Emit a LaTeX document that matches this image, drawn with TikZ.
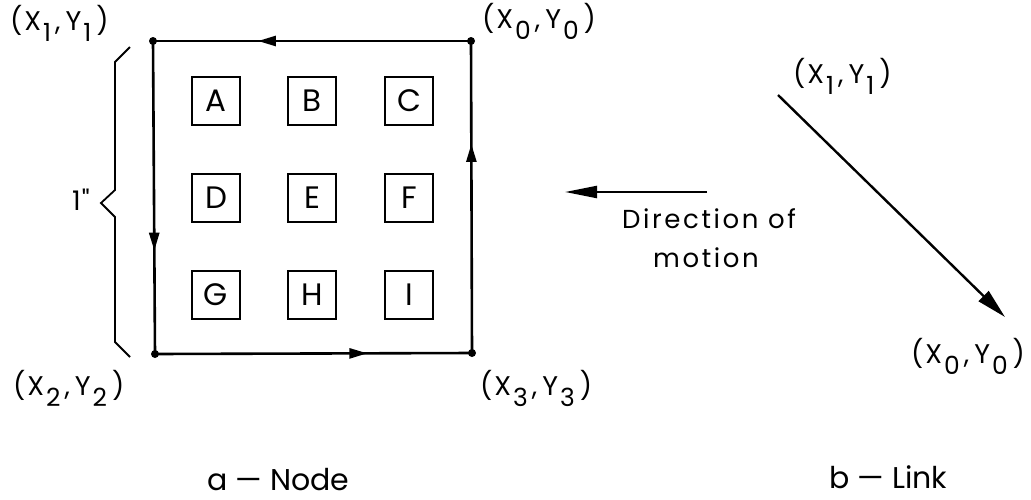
\documentclass[tikz,border=0pt]{standalone}
\usepackage{fontspec}
\setmainfont{Poppins}
\newfontfamily\labfont[LetterSpace=4]{Poppins}
\newfontfamily\dirfont[LetterSpace=10]{Poppins}
\newfontfamily\capfont{Poppins}
\usetikzlibrary{arrows.meta,decorations.markings}
\newcommand\dnx[1]{\hspace{2pt}\raisebox{-11pt}{\fontsize{25}{25}\selectfont #1}}
\newcommand\cpt[2]{(\hspace{2pt}X\dnx{#1}\hspace{4pt},\hspace{5pt}Y\dnx{#2}\hspace{5pt})}
\tikzset{
  lbl/.style={inner sep=0pt, anchor=base west, font=\labfont\fontsize{27}{30}\selectfont},
  dirtext/.style={inner sep=0pt, anchor=base, font=\dirfont\fontsize{26}{28}\selectfont},
  captext/.style={inner sep=0pt, anchor=base west, font=\capfont\fontsize{30}{32}\selectfont},
  cell/.style={draw, line width=1.8pt, minimum width=48pt, minimum height=48pt, inner sep=0pt, font=\fontsize{31}{31}\selectfont},
  edge/.style={line width=2.6pt, line cap=round, postaction={decorate}, decoration={markings, mark=at position 0.67 with {\arrow{Triangle[length=18pt,width=10pt]}}}},
  dot/.style={circle, fill, inner sep=0pt, minimum size=8pt},
  thin/.style={line width=1.8pt},
}
\begin{document}
\begin{tikzpicture}[x=1pt,y=-1pt]
\useasboundingbox (0,0) rectangle (1031,499);
% corners
\coordinate (c1) at (153,41);
\coordinate (c0) at (471,41);
\coordinate (c2) at (155,354);
\coordinate (c3) at (472,353);
\draw[edge] (c0) -- (c1);
\draw[edge] (c1) -- (c2);
\draw[edge] (c2) -- (c3);
\draw[edge] (c3) -- (c0);
\foreach \c in {c0,c1,c2,c3} \node[dot] at (\c) {};
% cells
\node[cell] (A) at (216,101) {A};
\node[cell] (B) at (312,101) {B};
\node[cell] (C) at (409,101) {C};
\node[cell] (D) at (216,198) {D};
\node[cell] (E) at (312,198) {E};
\node[cell] (F) at (409,198) {F};
\node[cell] (G) at (216,295) {G};
\node[cell] (H) at (312,295) {H};
\node[cell] (I) at (409,295) {I};
% corner labels
\node[lbl] (l1) at (10,30) {\cpt{1}{1}};
\node[lbl] (l0) at (482,28) {\cpt{0}{0}};
\node[lbl] (l2) at (13,395) {\cpt{2}{2}};
\node[lbl] (l3) at (480,395) {\cpt{3}{3}};
% brace
\draw[thin, line join=miter] (130,47) -- (115,62) -- (115,190) -- (101,203) -- (115,217) -- (115,342) -- (130,357);
\node[lbl] (one) at (72,210) {1"};
% direction of motion
\coordinate (ms) at (707,192);
\coordinate (me) at (565,192);
\draw[line width=2.2pt, -{Triangle[length=32pt,width=12pt]}] (ms) -- (me);
\node[dirtext] (dm1) at (709,228) {Direction of};
\node[dirtext] (dm2) at (706,267) {motion};
% link
\coordinate (k1) at (778,95);
\coordinate (k0) at (1005,317);
\draw[line width=2.4pt, -{Triangle[length=30pt,width=14pt]}] (k1) -- (k0);
\node[lbl] (kl1) at (793,83) {\cpt{1}{1}};
\node[lbl] (kl0) at (911,363) {\cpt{0}{0}};
% captions
\node[captext] (ca) at (207,490) {a — Node};
\node[captext] (cb) at (829,488) {b — Link};
\end{tikzpicture}
\end{document}
